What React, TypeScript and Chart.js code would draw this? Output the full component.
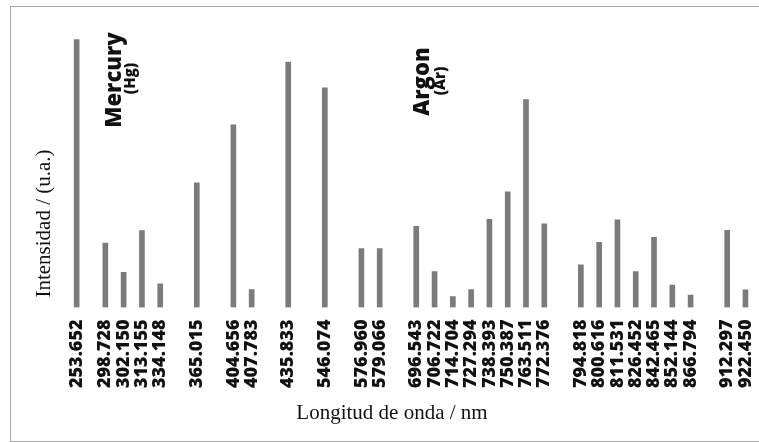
import React, { useEffect, useRef } from "react";
import { Chart, registerables } from "chart.js";

Chart.register(...registerables);

// Emission lines (wavelength labels, nm)
const wavelengths: string[] = [
  "253.652", "298.728", "302.150", "313.155", "334.148", "365.015", "404.656", "407.783",
  "435.833", "546.074", "576.960", "579.066", "696.543", "706.722", "714.704", "727.294",
  "738.393", "750.387", "763.511", "772.376", "794.818", "800.616", "811.531", "826.452",
  "842.465", "852.144", "866.794", "912.297", "922.450",
];

// Slot positions along the (non-proportional) axis
const slots: number[] = [
  0, 1.57, 2.57, 3.57, 4.57, 6.57, 8.57, 9.57,
  11.57, 13.57, 15.57, 16.57, 18.57, 19.57, 20.57, 21.57,
  22.57, 23.57, 24.57, 25.57, 27.57, 28.57, 29.57, 30.57,
  31.57, 32.57, 33.57, 35.57, 36.57,
];

// Relative intensity (a.u.)
const intensities: number[] = [
  100, 24.0, 13.1, 28.7, 8.8, 46.5, 68.1, 6.7,
  91.5, 81.9, 22.0, 22.0, 30.3, 13.4, 4.1, 6.7,
  32.9, 43.1, 77.5, 31.2, 15.9, 24.3, 32.7, 13.4,
  26.2, 8.4, 4.6, 28.8, 6.6,
];

const yTitle = "Intensidad / (u.a.)";
const xTitle = "Longitud de onda / nm";
const groupLabels = [
  { name: "Mercury", symbol: "(Hg)", slot: 2.45, cy: 80, sy: 78.5, sdx: 14 },
  { name: "Argon", symbol: "(Ar)", slot: 19.25, cy: 81.5, sy: 81, sdx: 16 },
];

const textPlugin = {
  id: "textPlugin",
  afterDraw(chart: any) {
    const ctx = chart.ctx as CanvasRenderingContext2D;
    const x = chart.scales.x;
    ctx.save();
    ctx.fillStyle = "#111";
    // y title
    ctx.save();
    ctx.font = '21px "Liberation Serif", "Times New Roman", serif';
    ctx.textAlign = "center";
    ctx.textBaseline = "alphabetic";
    ctx.translate(49.5, 223.5);
    ctx.rotate(-Math.PI / 2);
    ctx.fillText(yTitle, 0, 0);
    ctx.restore();
    // x title
    ctx.font = '21px "Liberation Serif", "Times New Roman", serif';
    ctx.textAlign = "center";
    ctx.textBaseline = "alphabetic";
    ctx.fillText(xTitle, 392, 419);
    // group labels
    groupLabels.forEach((g) => {
      const bx = x.getPixelForValue(g.slot);
      ctx.save();
      ctx.translate(bx, g.cy);
      ctx.rotate(-Math.PI / 2);
      ctx.textAlign = "center";
      ctx.textBaseline = "alphabetic";
      ctx.font = '800 22px "Open Sans", sans-serif';
      ctx.fillText(g.name, 0, 0);
      ctx.font = '800 15px "Open Sans", sans-serif';
      ctx.fillText(g.symbol, g.cy - g.sy, g.sdx);
      ctx.restore();
    });
    ctx.restore();
  },
};

export default function App() {
  const ref = useRef<HTMLCanvasElement | null>(null);

  useEffect(() => {
    if (!ref.current) return;
    const chart = new Chart(ref.current, {
      type: "bar",
      data: {
        datasets: [
          {
            data: slots.map((s, i) => ({ x: s, y: intensities[i] })),
            backgroundColor: "#7b7b7b",
            borderWidth: 0,
            barThickness: 5,
          },
        ],
      },
      options: {
        animation: false,
        responsive: false,
        maintainAspectRatio: false,
        layout: { padding: { left: 60, right: 0, top: 39.3, bottom: 0 } },
        plugins: {
          legend: { display: false },
          tooltip: { enabled: false },
        },
        scales: {
          x: {
            type: "linear",
            offset: false,
            min: -0.91,
            max: 37.31,
            grid: { display: false, drawTicks: false },
            border: { display: false },
            afterBuildTicks: (scale: any) => {
              scale.ticks = slots.map((v) => ({ value: v }));
            },
            afterFit: (scale: any) => {
              scale.height = 134.5;
              scale.paddingLeft = 0;
              scale.paddingRight = 0;
            },
            ticks: {
              autoSkip: false,
              minRotation: 90,
              maxRotation: 90,
              padding: 12,
              color: "#111",
              font: { family: '"Open Sans", sans-serif', size: 18, weight: "800" },
              callback: (_v: any, i: number) => wavelengths[i],
            },
          },
          y: {
            display: false,
            min: 0,
            max: 100,
          },
        },
      },
      plugins: [textPlugin],
    } as any);
    return () => chart.destroy();
  }, []);

  return (
    <div>
      <div
        style={{
          position: "absolute",
          left: 10,
          top: 6,
          width: 748,
          height: 434,
          borderTop: "1px solid #a8a8a8",
          borderLeft: "1px solid #a8a8a8",
          borderBottom: "1px solid #a8a8a8",
        }}
      />
      <canvas
        ref={ref}
        width={759}
        height={442}
        style={{ position: "absolute", left: 0, top: 0, width: 759, height: 442, display: "block" }}
      />
    </div>
  );
}
